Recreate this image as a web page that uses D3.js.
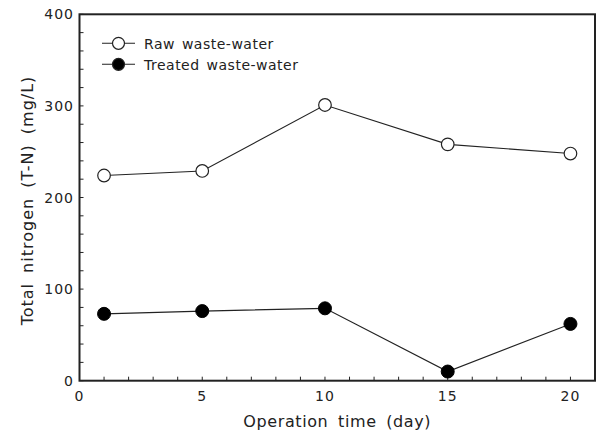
<!DOCTYPE html>
<html><head><meta charset="utf-8">
<script src="https://cdn.jsdelivr.net/npm/d3@7"></script>
<style>
body{margin:0;background:#fff;}
text{font-family:"DejaVu Sans",sans-serif;fill:#222;}
</style></head>
<body><svg id="c" width="597" height="434"></svg>
<script>
const days = [1, 5, 10, 15, 20];
const rawWater = [224, 229, 301, 258, 248];
const treatedWater = [73, 76, 79, 10, 62];
const xTicks = [0, 5, 10, 15, 20];
const yTicks = [0, 100, 200, 300, 400];
const seriesNames = ["Raw waste-water", "Treated waste-water"];

const svg = d3.select("#c");
const L = 79.5, R = 595, T = 14.3, B = 380.7;
const x = d3.scaleLinear().domain([0, 21]).range([L, R]);
const y = d3.scaleLinear().domain([0, 400]).range([B, T]);

// minor ticks (inward)
const g = svg.append("g");
g.selectAll(".xm").data(d3.range(0, 21, 1)).join("line")
  .attr("x1", d => x(d)).attr("x2", d => x(d))
  .attr("y1", B).attr("y2", B - 4).attr("stroke", "#222").attr("stroke-width", 1);
g.selectAll(".ym").data(d3.range(0, 401, 20)).join("line")
  .attr("x1", L).attr("x2", L + 4)
  .attr("y1", d => y(d)).attr("y2", d => y(d)).attr("stroke", "#222").attr("stroke-width", 1);

// frame
svg.append("rect").attr("x", L).attr("y", T).attr("width", R - L).attr("height", B - T)
  .attr("fill", "none").attr("stroke", "#222").attr("stroke-width", 2);

// tick labels
svg.selectAll(".xl").data(xTicks).join("text")
  .attr("x", d => x(d)).attr("y", 401).attr("text-anchor", "middle")
  .attr("font-size", 14).attr("letter-spacing", 1).text(d => d);
svg.selectAll(".yl").data(yTicks).join("text")
  .attr("x", 74).attr("y", d => y(d) + 5).attr("text-anchor", "end")
  .attr("font-size", 14).attr("letter-spacing", 1).text(d => d);

// axis titles
svg.append("text").attr("x", (L + R) / 2).attr("y", 427).attr("text-anchor", "middle")
  .attr("font-size", 16).attr("letter-spacing", 0.6).attr("word-spacing", 4)
  .text("Operation time (day)");
svg.append("text").attr("transform", `translate(33,${(T + B) / 2 + 3}) rotate(-90)`)
  .attr("text-anchor", "middle").attr("font-size", 16).attr("letter-spacing", 1)
  .attr("word-spacing", 4)
  .text("Total nitrogen (T-N) (mg/L)");

// lines
const line = d3.line().x((d, i) => x(days[i])).y(d => y(d));
[rawWater, treatedWater].forEach(s => {
  svg.append("path").attr("d", line(s)).attr("fill", "none")
    .attr("stroke", "#222").attr("stroke-width", 1.1);
});
svg.selectAll(".rp").data(rawWater).join("circle")
  .attr("cx", (d, i) => x(days[i])).attr("cy", d => y(d)).attr("r", 6.3)
  .attr("fill", "#fff").attr("stroke", "#222").attr("stroke-width", 1.2);
svg.selectAll(".tp").data(treatedWater).join("circle")
  .attr("cx", (d, i) => x(days[i])).attr("cy", d => y(d)).attr("r", 6.5)
  .attr("fill", "#000").attr("stroke", "#000").attr("stroke-width", 1);

// legend
const leg = [{name: seriesNames[0], fill: "#fff", cy: 43.3}, {name: seriesNames[1], fill: "#000", cy: 64.3}];
leg.forEach(l => {
  svg.append("line").attr("x1", 102).attr("x2", 135).attr("y1", l.cy).attr("y2", l.cy)
    .attr("stroke", "#222").attr("stroke-width", 1.1);
  svg.append("circle").attr("cx", 118.5).attr("cy", l.cy).attr("r", 6)
    .attr("fill", l.fill).attr("stroke", "#222").attr("stroke-width", 1.2);
  svg.append("text").attr("x", 144).attr("y", l.cy + 6).attr("font-size", 14)
    .attr("letter-spacing", 0.5).attr("word-spacing", 2).text(l.name);
});
</script></body></html>
